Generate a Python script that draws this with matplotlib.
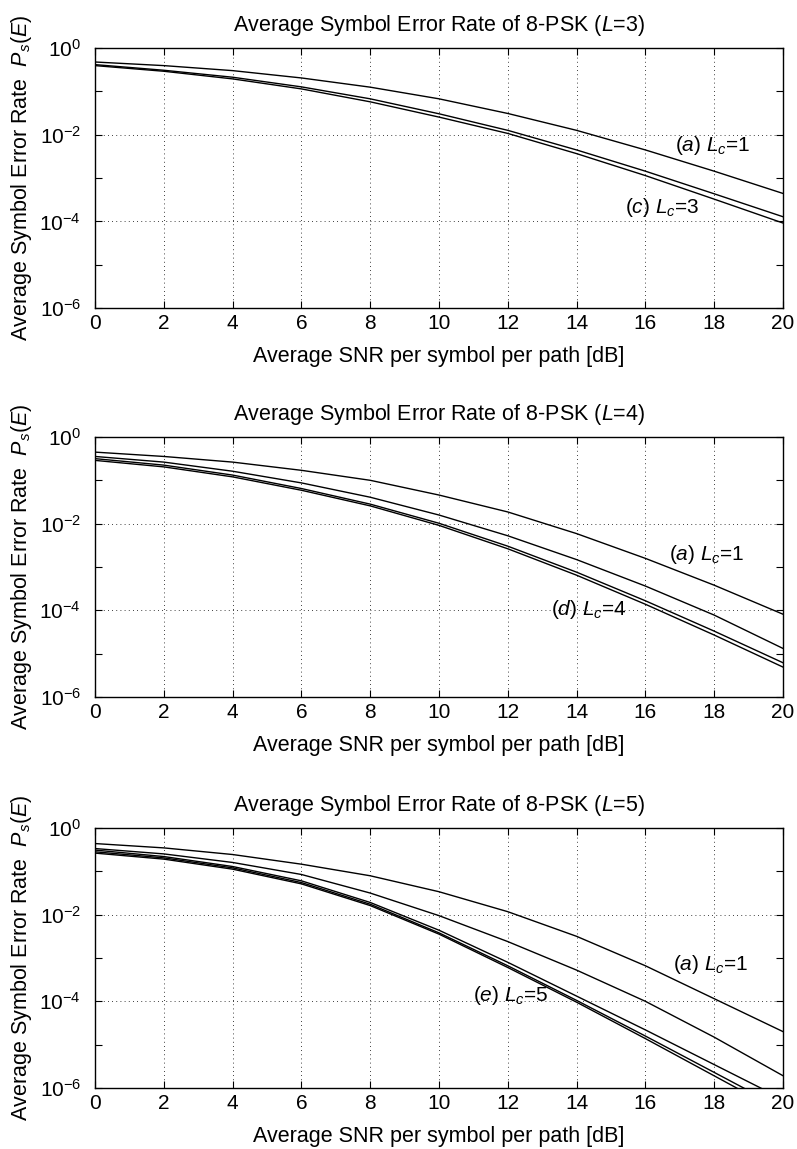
import matplotlib
matplotlib.use("Agg")
import matplotlib.pyplot as plt
from matplotlib.ticker import FixedLocator, NullFormatter, LogFormatterMathtext

plt.rcParams['font.family'] = ['Liberation Sans', 'DejaVu Sans']
plt.rcParams['mathtext.fontset'] = 'custom'
plt.rcParams['mathtext.rm'] = 'Liberation Sans'
plt.rcParams['mathtext.it'] = 'Liberation Sans:italic'
plt.rcParams['mathtext.bf'] = 'Liberation Sans:bold'

snr_db = [0, 2, 4, 6, 8, 10, 12, 14, 16, 18, 20]

# L = 3, Lc = 1..3
ser_L3_lc1 = [0.476, 0.393, 0.301, 0.204, 0.125, 6.73e-2, 3.09e-2, 1.26e-2, 4.45e-3, 1.44e-3, 4.41e-4]
ser_L3_lc2 = [0.414, 0.307, 0.212, 0.127, 6.73e-2, 3.04e-2, 1.26e-2, 4.45e-3, 1.44e-3, 4.33e-4, 1.28e-4]
ser_L3_lc3 = [0.393, 0.291, 0.194, 0.114, 5.74e-2, 2.55e-2, 1.07e-2, 3.66e-3, 1.14e-3, 3.26e-4, 9.16e-5]

# L = 4, Lc = 1..4
ser_L4_lc1 = [0.447, 0.355, 0.263, 0.170, 0.100, 4.57e-2, 1.86e-2, 5.89e-3, 1.58e-3, 3.80e-4, 8.13e-5]
ser_L4_lc2 = [0.355, 0.263, 0.162, 8.71e-2, 4.07e-2, 1.58e-2, 5.25e-3, 1.48e-3, 3.63e-4, 7.76e-5, 1.32e-5]
ser_L4_lc3 = [0.316, 0.224, 0.132, 6.46e-2, 2.82e-2, 1.02e-2, 3.02e-3, 7.59e-4, 1.66e-4, 3.31e-5, 6.17e-6]
ser_L4_lc4 = [0.288, 0.204, 0.120, 5.89e-2, 2.57e-2, 9.12e-3, 2.63e-3, 6.46e-4, 1.38e-4, 2.69e-5, 4.90e-6]

# L = 5, Lc = 1..5
ser_L5_lc1 = [0.437, 0.347, 0.244, 0.146, 7.89e-2, 3.38e-2, 1.17e-2, 3.16e-3, 6.61e-4, 1.15e-4, 2.00e-5]
ser_L5_lc2 = [0.335, 0.252, 0.160, 8.45e-2, 3.15e-2, 9.48e-3, 2.39e-3, 5.25e-4, 1.00e-4, 1.49e-5, 1.92e-6]
ser_L5_lc3 = [0.309, 0.219, 0.129, 6.03e-2, 1.91e-2, 4.37e-3, 7.94e-4, 1.32e-4, 2.19e-5, 3.47e-6, 5.50e-7]
ser_L5_lc4 = [0.282, 0.204, 0.120, 5.50e-2, 1.74e-2, 3.80e-3, 6.61e-4, 1.05e-4, 1.58e-5, 2.29e-6, 3.31e-7]
ser_L5_lc5 = [0.263, 0.191, 0.112, 5.13e-2, 1.62e-2, 3.55e-3, 6.03e-4, 9.55e-5, 1.38e-5, 1.91e-6, 2.63e-7]

panels = [
    (3, [ser_L3_lc1, ser_L3_lc2, ser_L3_lc3],
     [(r'($a$) $L_c$=1', 17.97, 10**-2.26), (r'($c$) $L_c$=3', 16.5, 10**-3.69)]),
    (4, [ser_L4_lc1, ser_L4_lc2, ser_L4_lc3, ser_L4_lc4],
     [(r'($a$) $L_c$=1', 17.8, 10**-2.72), (r'($d$) $L_c$=4', 14.36, 10**-3.99)]),
    (5, [ser_L5_lc1, ser_L5_lc2, ser_L5_lc3, ser_L5_lc4, ser_L5_lc5],
     [(r'($a$) $L_c$=1', 17.9, 10**-3.16), (r'($e$) $L_c$=5', 12.1, 10**-3.87)]),
]

fig = plt.figure(figsize=(7.97, 11.49), dpi=100)
bottoms = [0.7319, 0.3934, 0.0531]
fs = 15.5
tfs = 15

for (L, curves, labels), b in zip(panels, bottoms):
    ax = fig.add_axes([0.1192, b, 0.8632, 0.2263])
    for ser in curves:
        ax.plot(snr_db, ser, color='black', lw=1.0)
    ax.set_yscale('log')
    ax.set_xlim(0, 20)
    ax.set_ylim(1e-6, 1)
    ax.set_xticks(range(0, 21, 2))
    ax.yaxis.set_major_locator(FixedLocator([1e-6, 1e-4, 1e-2, 1]))
    ax.yaxis.set_major_formatter(LogFormatterMathtext())
    ax.yaxis.set_minor_locator(FixedLocator([1e-5, 1e-3, 1e-1]))
    ax.yaxis.set_minor_formatter(NullFormatter())
    ax.tick_params(which='both', direction='in', top=True, right=True, labelsize=tfs)
    ax.tick_params(which='major', length=5, width=0.8)
    ax.tick_params(which='minor', length=5, width=0.8)
    ax.tick_params(axis='x', which='major', pad=4)
    ax.tick_params(axis='y', which='major', pad=10)
    ax.grid(True, which='major', linestyle=(0, (1, 4)), color='black', lw=0.6)
    for s in ax.spines.values():
        s.set_linewidth(1.0)
    ax.set_title('Average Symbol Error Rate of 8-PSK ($L$=%d)' % L, fontsize=fs, pad=12)
    ax.set_xlabel('Average SNR per symbol per path [dB]', fontsize=fs, labelpad=10)
    ax.set_ylabel(r'Average Symbol Error Rate  $P_s(E)$', fontsize=fs, labelpad=4)
    for txt, x, y in labels:
        ax.text(x, y, txt, fontsize=tfs, ha='center', va='center')

fig.savefig('out.png', dpi=100)
